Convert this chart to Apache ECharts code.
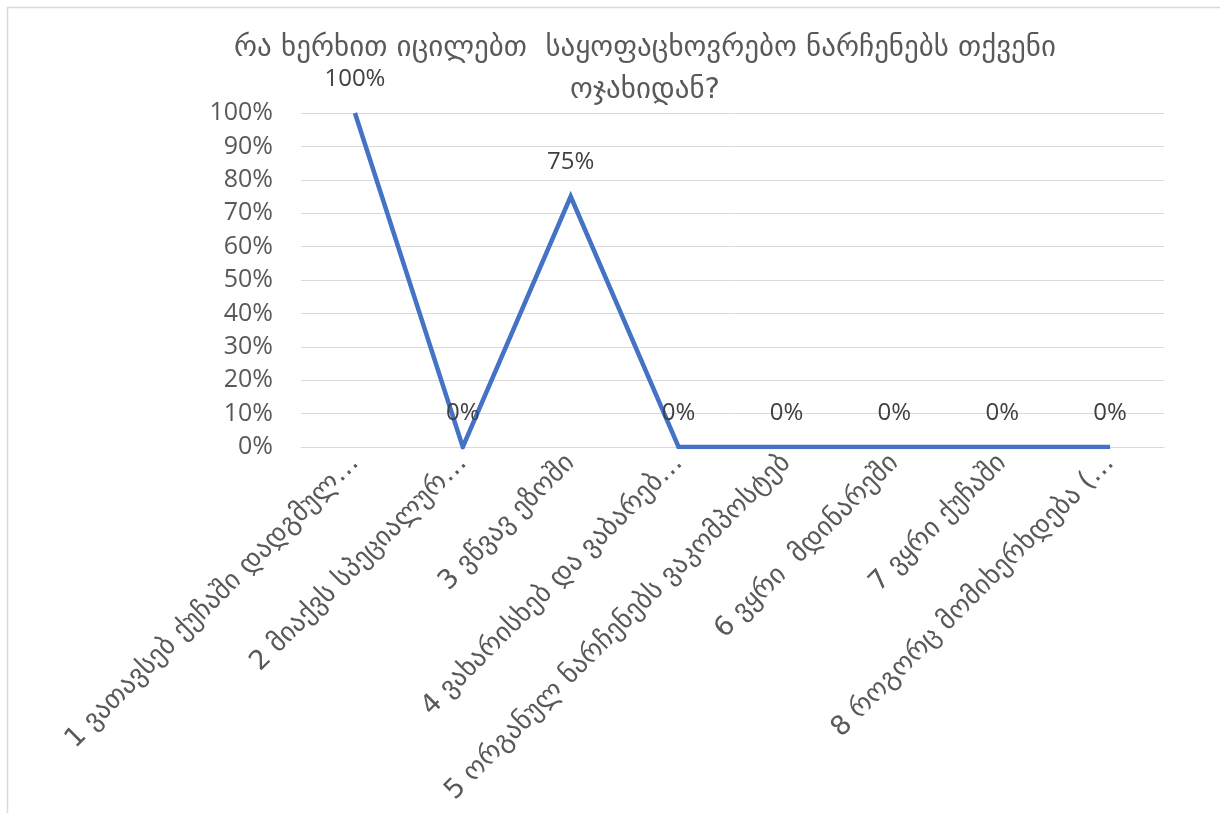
<!DOCTYPE html>
<html>
<head>
<meta charset="utf-8">
<script src="https://cdn.jsdelivr.net/npm/echarts@6/dist/echarts.min.js"></script>
<style>
html,body{margin:0;padding:0;background:#fff;}
#chart{width:1220px;height:813px;}
</style>
</head>
<body>
<div id="chart"></div>
<script>
const titleText = "რა ხერხით იცილებთ  საყოფაცხოვრებო ნარჩენებს თქვენი\nოჯახიდან?";
const categories = [
  "1 ვათავსებ ქუჩაში დადგმულ…",
  "2 მიაქვს სპეციალურ…",
  "3 ვწვავ ეზოში",
  "4 ვახარისხებ და ვაბარებ…",
  "5 ორგანულ ნარჩენებს ვაკომპოსტებ",
  "6 ვყრი  მდინარეში",
  "7 ვყრი ქუჩაში",
  "8 როგორც მომიხერხდება (…"
];
const values = [100, 0, 75, 0, 0, 0, 0, 0];
const yTicks = [0, 10, 20, 30, 40, 50, 60, 70, 80, 90, 100];

const GEO = "'DejaVu Sans', sans-serif";
const NUM = "'Open Sans', 'Noto Sans', sans-serif";
const chart = echarts.init(document.getElementById('chart'));
chart.setOption({
  animation: false,
  backgroundColor: '#fff',
  graphic: [{
    type: 'rect',
    shape: {x: 7.5, y: 7.5, width: 1300, height: 900},
    style: {fill: 'none', stroke: '#d9d9d9', lineWidth: 1.5},
    silent: true
  }],
  title: {
    text: titleText,
    left: 640,
    top: 22,
    textAlign: 'center',
    textStyle: {fontFamily: GEO, fontSize: 29, fontWeight: 'normal', color: '#595959', lineHeight: 42}
  },
  grid: {left: 301, right: 56, top: 113, bottom: 366, containLabel: false},
  xAxis: {
    type: 'category',
    data: categories,
    boundaryGap: true,
    axisLine: {show: true, lineStyle: {color: '#d9d9d9', width: 1}},
    axisTick: {show: false},
    axisLabel: {
      rotate: 45, interval: 0, margin: 12,
      fontFamily: GEO, fontSize: 27, color: '#595959'
    }
  },
  yAxis: {
    type: 'value',
    min: yTicks[0], max: yTicks[yTicks.length - 1], interval: 10,
    axisLine: {show: false},
    axisTick: {show: false},
    splitLine: {lineStyle: {color: '#d9d9d9', width: 1}},
    axisLabel: {
      margin: 28,
      formatter: v => v + '%',
      fontFamily: NUM, fontSize: 25, color: '#595959'
    }
  },
  series: [{
    type: 'line',
    data: values,
    showSymbol: true,
    symbol: 'circle',
    symbolSize: 0.1,
    itemStyle: {color: '#4472C4'},
    lineStyle: {color: '#4472C4', width: 4.5, join: 'miter'},
    label: {
      show: true, position: 'top', distance: 22,
      formatter: p => p.value + '%',
      fontFamily: NUM, fontSize: 24, color: '#404040'
    }
  }]
});
</script>
</body>
</html>
